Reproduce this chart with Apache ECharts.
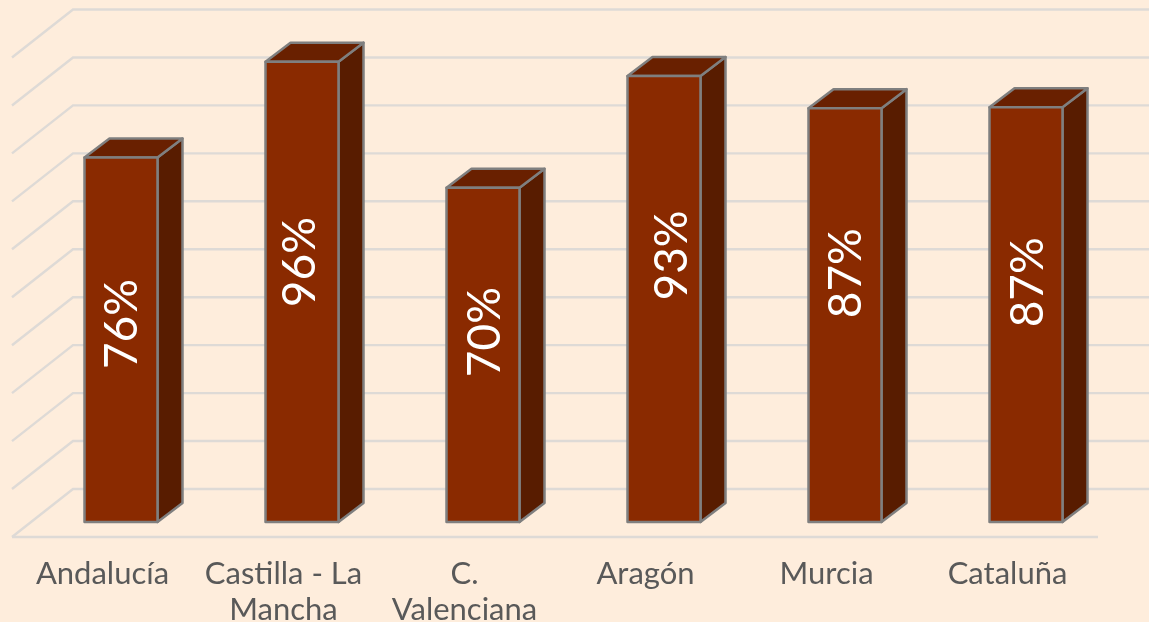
<!DOCTYPE html>
<html>
<head>
<meta charset="utf-8">
<style>html,body{margin:0;padding:0;background:#FEEDDC}#c{width:1149px;height:622px}</style>
<script src="https://cdn.jsdelivr.net/npm/echarts@6/dist/echarts.min.js"></script>
</head>
<body>
<div id="c"></div>
<script>
const categories = ['Andalucía', 'Castilla - La\nMancha', 'C.\nValenciana', 'Aragón', 'Murcia', 'Cataluña'];
const values = [76, 96, 69.7, 93, 86.3, 86.5];
const labels = ['76%', '96%', '70%', '93%', '87%', '87%'];
const labelHeights = [41.3, 54.2, 39.6, 55.6, 51.9, 50];
const ticks = [0, 10, 20, 30, 40, 50, 60, 70, 80, 90, 100];

const labelNudgeX = [1, -2, 2, 8, 1, 2];
const wallDx = 61, wallDy = -48;
const barDx = 18.5, barDy = -15, depthX = 25, depthY = -19, halfW = 36.5;
const gridCol = '#DEDAD6', edge = '#7F7F7F';

const chart = echarts.init(document.getElementById('c'), null, {renderer: 'canvas'});

function renderWall(params, api) {
  const cs = params.coordSys;
  const y = api.coord([0, api.value(1)])[1];
  const x0 = cs.x;
  const pts = [[x0, y], [x0 + wallDx, y + wallDy], [api.getWidth(), y + wallDy]];
  const style = {stroke: gridCol, lineWidth: 2.4, fill: null};
  const children = [{type: 'polyline', shape: {points: pts}, style: style}];
  if (api.value(1) === 0) children.push({type: 'line', shape: {x1: x0, y1: y, x2: cs.x + cs.width, y2: y}, style: style});
  return {type: 'group', children: children};
}

function renderBar(params, api) {
  const p = api.coord([api.value(0), api.value(1)]);
  const base = api.coord([api.value(0), 0]);
  const mid = api.coord([api.value(0), api.value(2)]);
  const cx = p[0] + barDx, l = cx - halfW, r = cx + halfW;
  const t = p[1] + barDy, b = base[1] + barDy;
  const lineStyle = {stroke: edge, lineWidth: 2.5, lineJoin: 'round'};
  return {type: 'group', children: [
    {type: 'polygon', shape: {points: [[r, t], [r + depthX, t + depthY], [r + depthX, b + depthY], [r, b]]},
      style: Object.assign({fill: '#581C00'}, lineStyle)},
    {type: 'polygon', shape: {points: [[l, t], [l + depthX, t + depthY], [r + depthX, t + depthY], [r, t]]},
      style: Object.assign({fill: '#692000'}, lineStyle)},
    {type: 'rect', shape: {x: l, y: t, width: r - l, height: b - t},
      style: Object.assign({fill: '#8A2A00'}, lineStyle)},
    {type: 'text', x: cx + labelNudgeX[params.dataIndex], y: mid[1] + barDy, rotation: Math.PI / 2,
      style: {text: labels[params.dataIndex], fill: '#FFFFFF', font: '46px Lato', align: 'center', verticalAlign: 'middle'}}
  ]};
}

chart.setOption({
  backgroundColor: '#FEEDDC',
  animation: false,
  tooltip: {show: false},
  grid: {left: 12, width: 1086, top: 57.5, height: 479.5, outerBoundsMode: 'none'},
  xAxis: {
    type: 'category', data: categories,
    axisLine: {show: false}, axisTick: {show: false}, splitLine: {show: false},
    axisLabel: {
      interval: 0, margin: 19, color: '#595959', fontFamily: 'Lato', fontSize: 31,
      lineHeight: 36
    }
  },
  yAxis: {type: 'value', min: 0, max: 100, interval: 10, show: false, splitLine: {show: false}},
  series: [
    {type: 'custom', silent: true, clip: false, z: 1, renderItem: renderWall,
      encode: {x: 0, y: 1}, data: ticks.map(v => [0, v])},
    {type: 'custom', silent: true, clip: false, z: 2, renderItem: renderBar,
      encode: {x: 0, y: 1}, data: values.map((v, i) => [i, v, labelHeights[i]])}
  ]
});
</script>
</body>
</html>
